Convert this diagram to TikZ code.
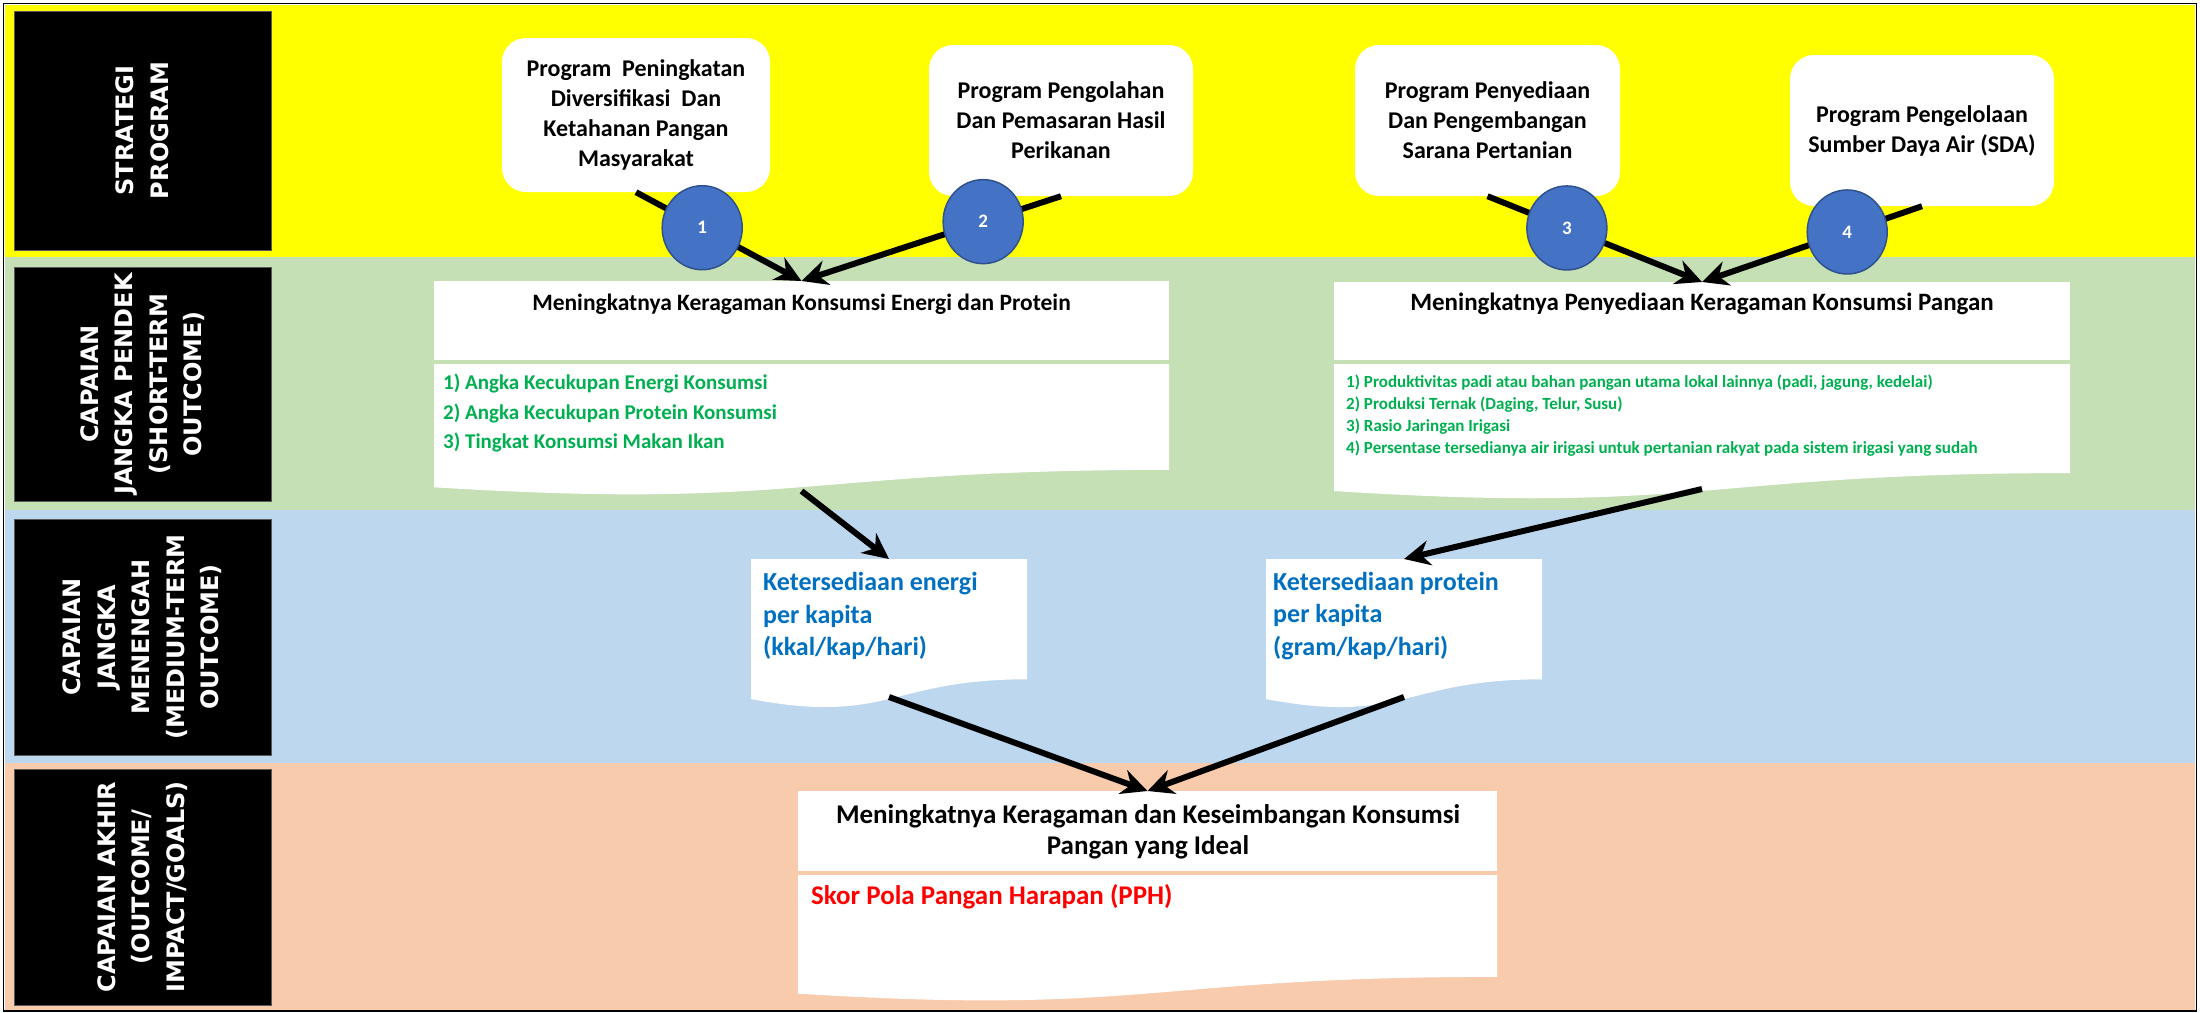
\documentclass[tikz,border=0pt]{standalone}
\usepackage{fontspec}
\setmainfont{Carlito}
\newfontfamily\tagfont{DejaVu Sans}
\usetikzlibrary{arrows.meta,calc,shapes.geometric}

\definecolor{bandY}{HTML}{FFFF00}
\definecolor{bandG}{HTML}{C5E0B4}
\definecolor{bandB}{HTML}{BDD7EE}
\definecolor{bandO}{HTML}{F8CBAD}
\definecolor{numfill}{HTML}{4472C4}
\definecolor{numedge}{HTML}{2F528F}
\definecolor{txtgreen}{HTML}{00B050}
\definecolor{txtblue}{HTML}{0070C0}
\definecolor{txtred}{HTML}{FF0000}

\newcommand\fs[2]{\fontsize{#1}{#2}\selectfont}

% white sheet with a wavy lower edge: left, top, right, nominal height
\newcommand\docsheet[4]{%
  \fill[white] (#1,#2) -- (#3,#2) -- (#3,{#2+0.802*#4})
    .. controls ({(#1+#3)/2},{#2+0.802*#4}) and ({(#1+#3)/2},{#2+1.107*#4})
    .. (#1,{#2+0.934*#4}) -- cycle;}

\begin{document}
\begin{tikzpicture}[x=1pt,y=-1pt,
  tagbox/.style={fill=black, draw=black!65, line width=1pt, inner sep=0,
    rotate=90, text=white, align=center, font=\tagfont\bfseries\fs{24}{34.5}},
  prog/.style={fill=white, rounded corners=24pt, inner sep=0, align=center,
    font=\bfseries\fs{24}{30}},
  num/.style={ellipse, fill=numfill, draw=numedge, line width=1.5pt,
    minimum width=80pt, minimum height=84pt, inner sep=0, text=white,
    font=\bfseries\fs{19}{19}},
  holder/.style={inner sep=0, outer sep=0, anchor=north west},
  plain/.style={inner sep=0},
  link/.style={line width=6pt, -{Stealth[length=26pt,width=25pt]}},
]
\useasboundingbox (0,0) rectangle (2200,1012);
\fill[white] (0,0) rectangle (2200,1012);

% horizontal bands
\fill[bandY] (5,5) rectangle (2195,257);
\fill[bandG] (5,257) rectangle (2195,510);
\fill[bandB] (5,510) rectangle (2195,763);
\fill[bandO] (5,763) rectangle (2195,1010);
\draw[line width=1.5pt] (3.5,3.5) rectangle (2196.5,1011);

% row titles
\node[tagbox, minimum width=239pt, minimum height=257pt] (t1) at (142.5,130.5)
  {STRATEGI\\PROGRAM};
\node[tagbox, minimum width=234pt, minimum height=257pt] (t2) at (142.5,384)
  {CAPAIAN\\JANGKA PENDEK\\(SHORT-TERM\\OUTCOME)};
\node[tagbox, minimum width=236pt, minimum height=257pt] (t3) at (142.5,637)
  {CAPAIAN\\JANGKA\\MENENGAH\\(MEDIUM-TERM\\OUTCOME)};
\node[tagbox, minimum width=236pt, minimum height=257pt] (t4) at (142.5,887)
  {CAPAIAN AKHIR\\(OUTCOME/\\IMPACT/GOALS)};

% programmes
\node[prog, minimum width=268pt, minimum height=154pt] (p1) at (636,115)
  {Program\ \ Peningkatan\\Diversifikasi\ \ Dan\\Ketahanan Pangan\\Masyarakat};
\node[prog, minimum width=264pt, minimum height=151pt] (p2) at (1061,120.5)
  {Program Pengolahan\\Dan Pemasaran Hasil\\Perikanan};
\node[prog, minimum width=265pt, minimum height=151pt] (p3) at (1487.5,120.5)
  {Program Penyediaan\\Dan Pengembangan\\Sarana Pertanian};
\node[prog, minimum width=264pt, minimum height=151pt] (p4) at (1922,130.5)
  {Program Pengelolaan\\Sumber Daya Air (SDA)};

% short-term outcome sheets
\fill[white] (434,281) rectangle (1169,360);
\docsheet{434}{364}{1169}{132}
\fill[white] (1334,282) rectangle (2070,360);
\docsheet{1334}{364}{2070}{136}
\node[holder, minimum width=735pt, minimum height=210pt] (st1) at (434,281) {};
\node[holder, minimum width=736pt, minimum height=207pt] (st2) at (1334,282) {};

\node[plain, font=\bfseries\fs{23.5}{28}] (st1h) at (801.5,304)
  {Meningkatnya Keragaman Konsumsi Energi dan Protein};
\node[plain, anchor=west, align=left, text=txtgreen, font=\bfseries\fs{21}{29.5}]
  (st1i) at (443,413)
  {1) Angka Kecukupan Energi Konsumsi\\2) Angka Kecukupan Protein Konsumsi\\3) Tingkat Konsumsi Makan Ikan};
\node[plain, font=\bfseries\fs{25}{28}] (st2h) at (1702,304)
  {Meningkatnya Penyediaan Keragaman Konsumsi Pangan};
\node[plain, anchor=west, align=left, text=txtgreen, font=\bfseries\fs{17}{22}]
  (st2i) at (1346,416)
  {1) Produktivitas padi atau bahan pangan utama lokal lainnya (padi, jagung, kedelai)\\
   2) Produksi Ternak (Daging, Telur, Susu)\\
   3) Rasio Jaringan Irigasi\\
   4) Persentase tersedianya air irigasi untuk pertanian rakyat pada sistem irigasi yang sudah};

% medium-term outcome sheets
\docsheet{751}{559}{1027}{150}
\docsheet{1266}{559}{1542}{150}
\node[holder, minimum width=276pt, minimum height=138pt] (mt1) at (751,559) {};
\node[holder, minimum width=276pt, minimum height=138pt] (mt2) at (1266,559) {};
\node[plain, anchor=west, align=left, text=txtblue, font=\bfseries\fs{26}{32.5}]
  (mt1t) at (763,616) {Ketersediaan energi\\per kapita\\(kkal/kap/hari)};
\node[plain, anchor=west, align=left, text=txtblue, font=\bfseries\fs{26}{32.5}]
  (mt2t) at (1273,616) {Ketersediaan protein\\per kapita\\(gram/kap/hari)};

% final outcome sheet
\fill[white] (798,791) rectangle (1497,871);
\docsheet{798}{875}{1497}{127}
\node[holder, minimum width=699pt, minimum height=204pt] (fg) at (798,791) {};
\node[plain, align=center, font=\bfseries\fs{27}{31}] (fgh) at (1148,832)
  {Meningkatnya Keragaman dan Keseimbangan Konsumsi\\Pangan yang Ideal};
\node[plain, anchor=west, text=txtred, font=\bfseries\fs{27}{31}] (fgi) at (811,897)
  {Skor Pola Pangan Harapan (PPH)};

% connectors
\draw[link] (p1.south) -- (st1.north);
\draw[link] (p2.south) -- (st1.north);
\draw[link] (p3.south) -- (st2.north);
\draw[link] (p4.south) -- (st2.north);
\draw[link] (st1.south) -- (mt1.north);
\draw[link] (st2.south) -- (mt2.north);
\draw[link] (mt1.south) -- (fg.north);
\draw[link] (mt2.south) -- (fg.north);

% programme numbers
\node[num] (n1) at ($(p1.south)!0.40!(st1.north)$) {1};
\node[num] (n2) at ($(p2.south)!0.30!(st1.north)$) {2};
\node[num] (n3) at ($(p3.south)!0.37!(st2.north)$) {3};
\node[num] (n4) at ($(p4.south)!0.34!(st2.north)$) {4};
\end{tikzpicture}
\end{document}
